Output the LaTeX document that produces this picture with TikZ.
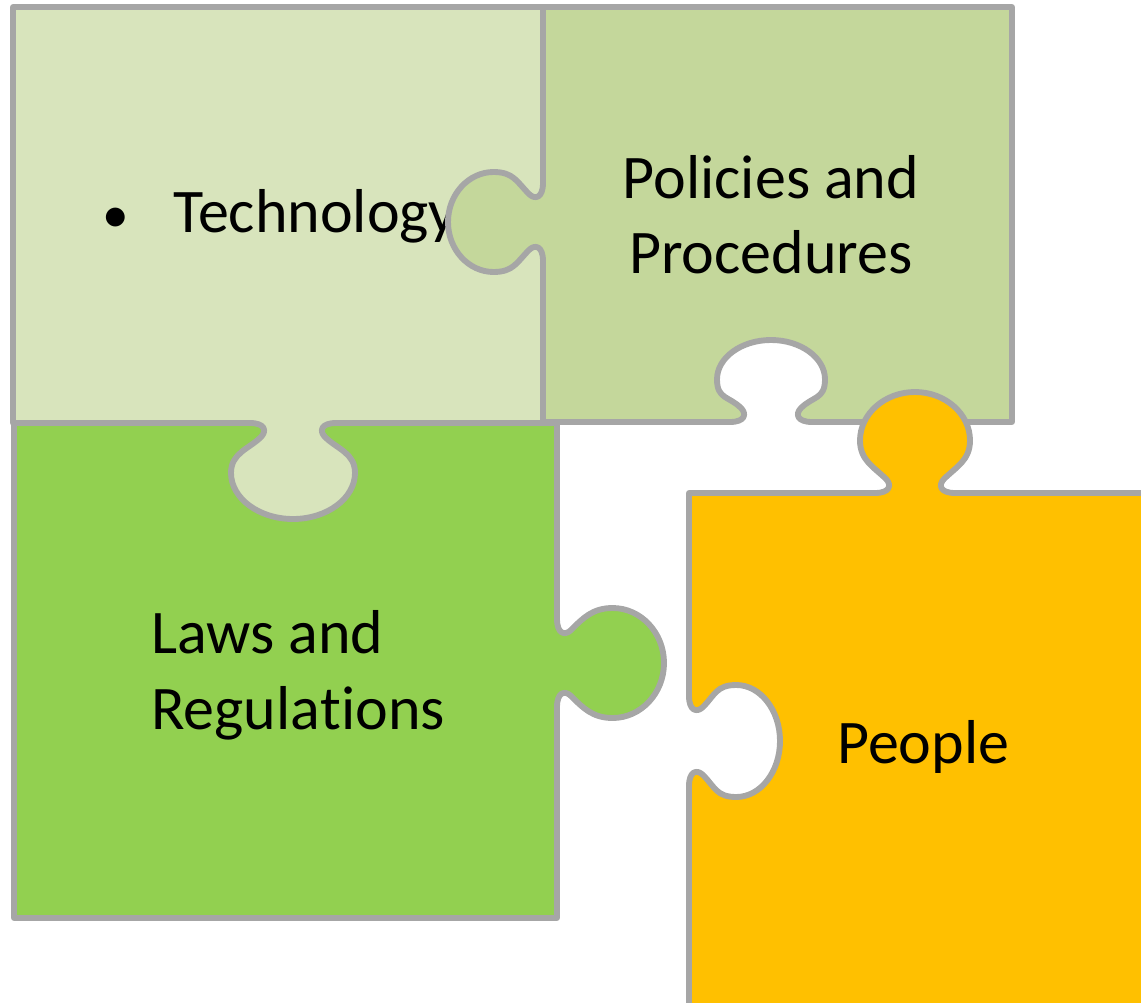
\documentclass[tikz,border=0pt]{standalone}
\usepackage{fontspec}
\setmainfont{Carlito}[Ligatures={NoCommon,NoContextual}]
\newcommand\kx[2]{\kbx+(#1)*\ktx+(#2)*\kox}
\newcommand\ky[2]{\kby+(#1)*\kty+(#2)*\koy}
\definecolor{techc}{HTML}{D8E4BC}
\definecolor{polc}{HTML}{C4D79B}
\definecolor{lawc}{HTML}{92D050}
\definecolor{peoc}{HTML}{FFC000}
\definecolor{edgec}{HTML}{A6A6A6}
\tikzset{
  kset/.code n args={6}{\gdef\kbx{#1}\gdef\kby{#2}\gdef\ktx{#3}\gdef\kty{#4}\gdef\kox{#5}\gdef\koy{#6}},
  kparam/.code n args={3}{\gdef\kn{#1}\gdef\kh{#2}\gdef\kd{#3}},
  knob/.style={insert path={
    -- ({\kx{-\kn-14}{0}},{\ky{-\kn-14}{0}})
    .. controls ({\kx{-\kn+1}{0}},{\ky{-\kn+1}{0}}) and ({\kx{-\kn+3}{8}},{\ky{-\kn+3}{8}})
    .. ({\kx{-\kn-3}{14}},{\ky{-\kn-3}{14}})
    .. controls ({\kx{-\kn-15}{26}},{\ky{-\kn-15}{26}}) and ({\kx{-\kh}{0.52*\kd-20}},{\ky{-\kh}{0.52*\kd-20}})
    .. ({\kx{-\kh}{0.52*\kd}},{\ky{-\kh}{0.52*\kd}})
    .. controls ({\kx{-\kh}{0.784*\kd}},{\ky{-\kh}{0.784*\kd}}) and ({\kx{-0.55*\kh}{\kd}},{\ky{-0.55*\kh}{\kd}})
    .. ({\kx{0}{\kd}},{\ky{0}{\kd}})
    .. controls ({\kx{0.55*\kh}{\kd}},{\ky{0.55*\kh}{\kd}}) and ({\kx{\kh}{0.784*\kd}},{\ky{\kh}{0.784*\kd}})
    .. ({\kx{\kh}{0.52*\kd}},{\ky{\kh}{0.52*\kd}})
    .. controls ({\kx{\kh}{0.52*\kd-20}},{\ky{\kh}{0.52*\kd-20}}) and ({\kx{\kn+15}{26}},{\ky{\kn+15}{26}})
    .. ({\kx{\kn+3}{14}},{\ky{\kn+3}{14}})
    .. controls ({\kx{\kn-3}{8}},{\ky{\kn-3}{8}}) and ({\kx{\kn-1}{0}},{\ky{\kn-1}{0}})
    .. ({\kx{\kn+14}{0}},{\ky{\kn+14}{0}})
  }},
  piece/.style={draw=edgec, line width=4.4pt, line join=round},
  lbl/.style={inner sep=0pt, font=\fontsize{46.5}{56}\selectfont, text=black}
}
\begin{document}
\begin{tikzpicture}[x=0.75pt, y=-0.75pt]
\useasboundingbox (0,0) rectangle (1141,1002);
\clip (0,0) rectangle (1141,1002);
% Laws and Regulations
\path[piece, fill=lawc] (14,423) -- (557,423)
  [kset={557}{663}{0}{1}{1}{0}, kparam={30}{55}{107}, knob]
  -- (557,918) -- (14,918) -- cycle;
% Technology
\path[piece, fill=techc] (13,7) -- (543,7) -- (543,423)
  [kset={293}{423}{-1}{0}{0}{1}, kparam={29}{62}{96}, knob]
  -- (13,423) -- cycle;
\node[lbl, anchor=base west] (bul) at (102,232) {\fontsize{40}{48}\selectfont •};
\node[lbl, anchor=base west] (tech) at (173,232) {Technology};
% Policies and Procedures
\path[piece, fill=polc] (543,7) -- (1012,7) -- (1012,422)
  [kset={771}{422}{-1}{0}{0}{-1}, kparam={27}{54}{82}, knob]
  -- (543,422)
  [kset={543}{222}{0}{-1}{-1}{0}, kparam={25}{50}{95}, knob]
  -- cycle;
\node[lbl, anchor=base] (pol1) at (771,198) {Policies and};
\node[lbl, anchor=base] (pol2) at (771,273) {Procedures};
% People
\path[piece, fill=peoc] (689,493)
  [kset={915}{493}{1}{0}{0}{-1}, kparam={26}{55}{101}, knob]
  -- (1170,493) -- (1170,1030) -- (689,1030) -- (689,800)
  [kset={689}{741}{0}{-1}{1}{0}, kparam={31}{56}{91}, knob]
  -- cycle;
\node[lbl, anchor=base west] (lab1) at (151,653) {Laws and};
\node[lbl, anchor=base west] (lab2) at (151,729) {Regula\kern0pt tions};
\node[lbl, anchor=base west] (peo) at (837,763) {People};
\end{tikzpicture}
\end{document}
